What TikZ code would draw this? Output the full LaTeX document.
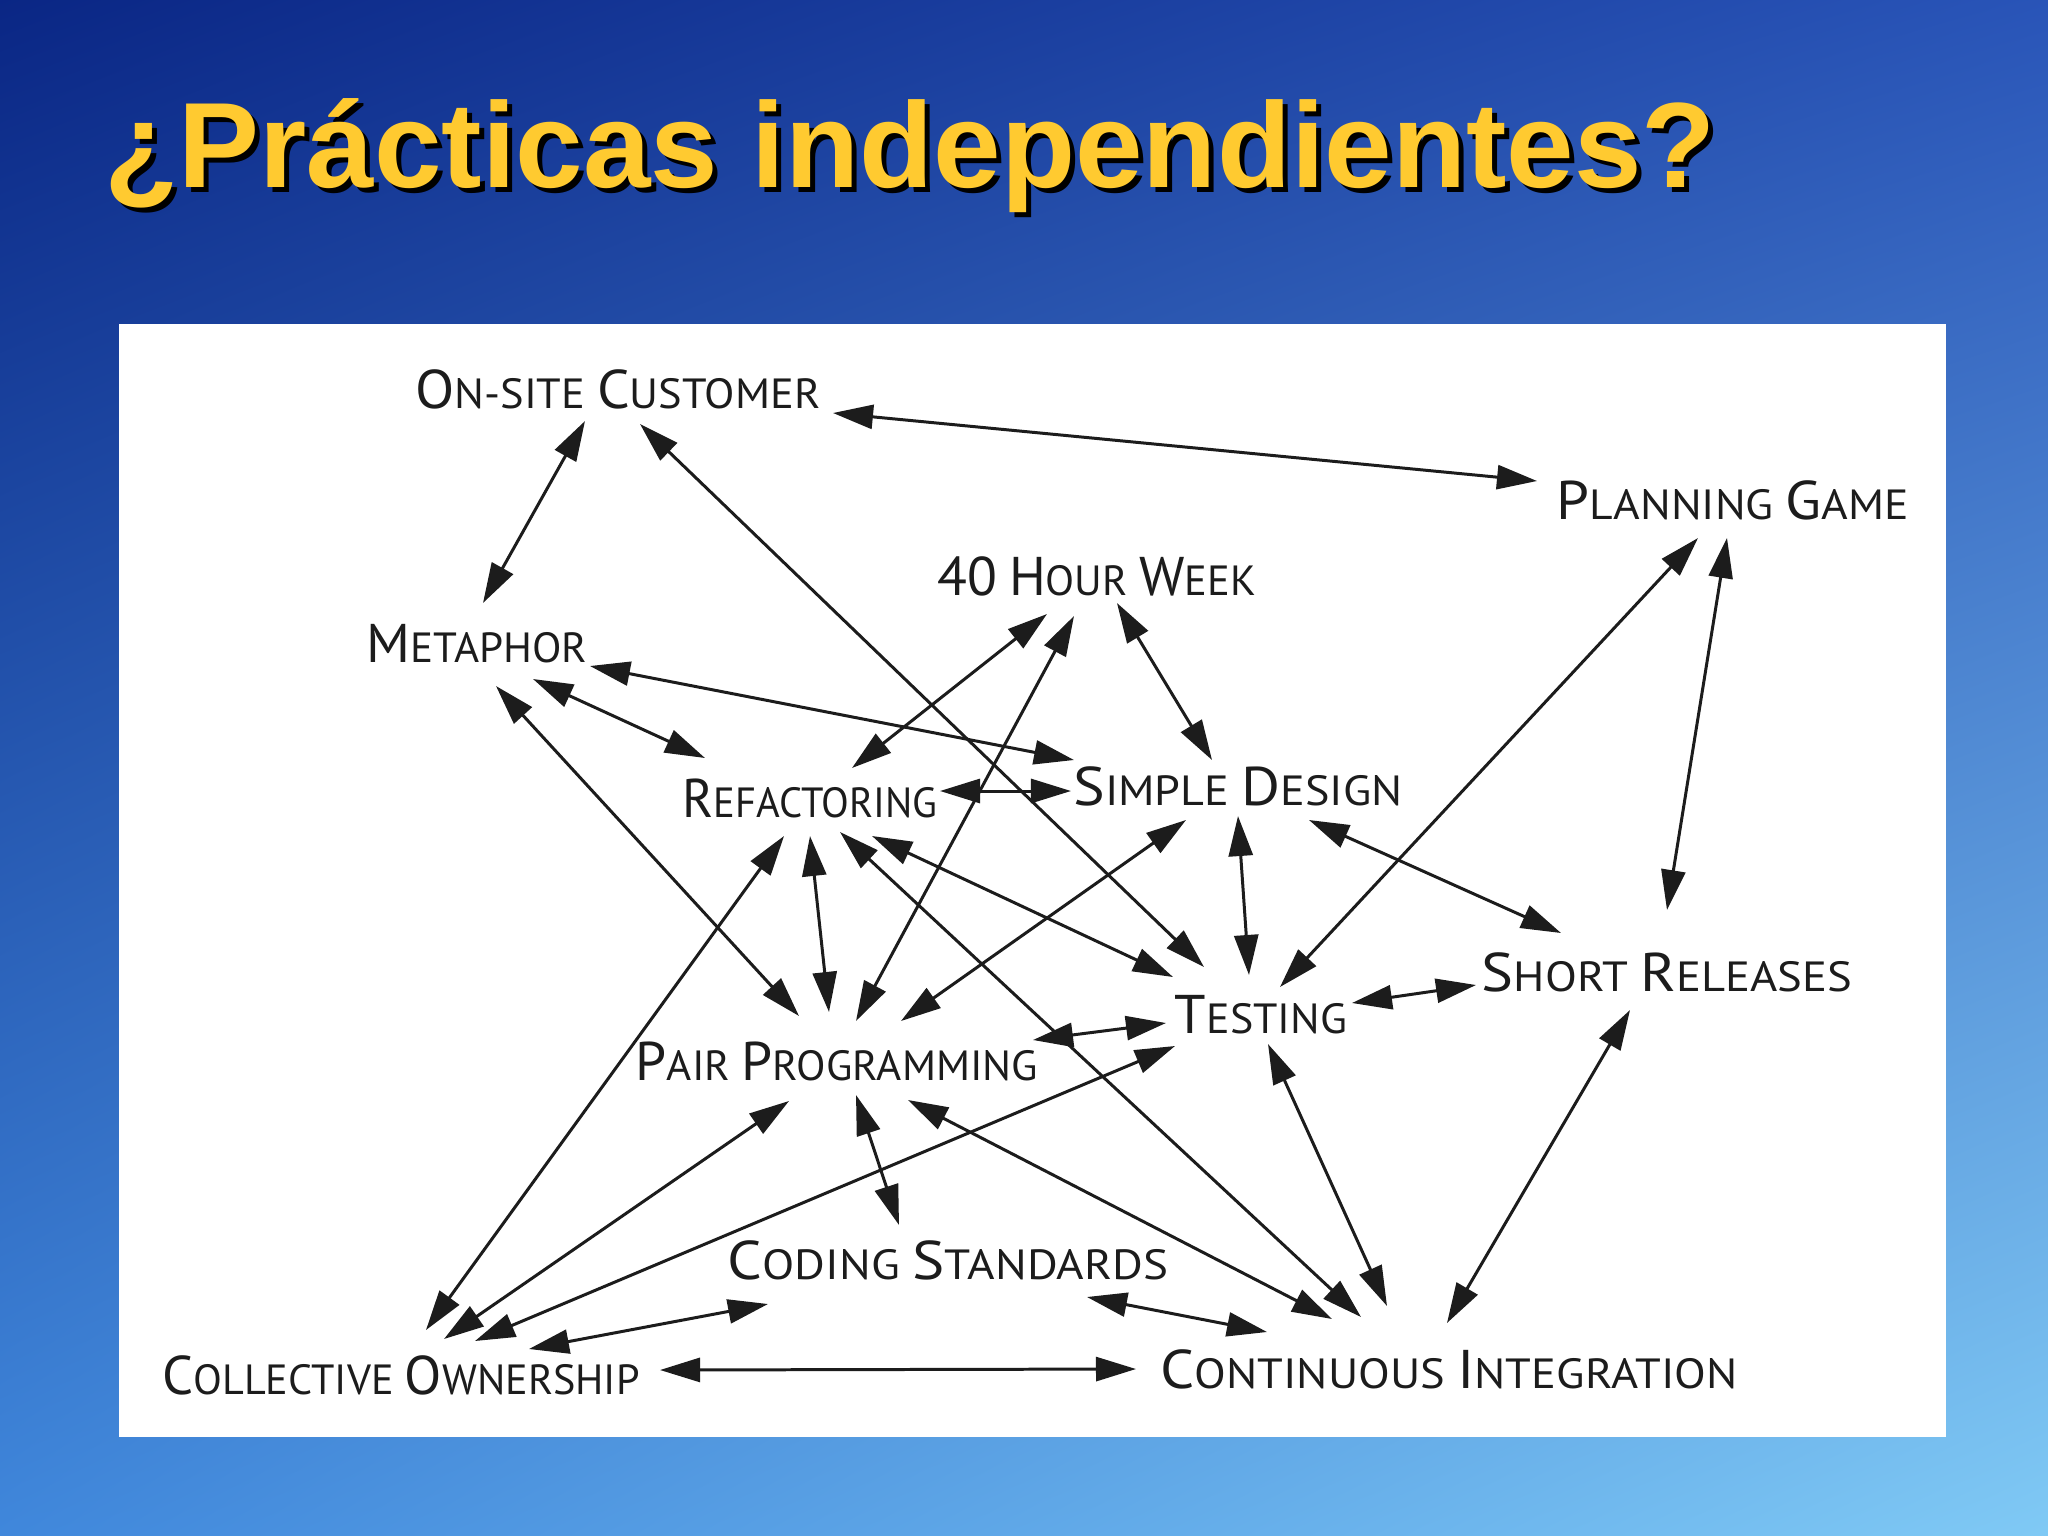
\documentclass[tikz,border=0pt]{standalone}
\usepackage{fontspec}
\usepackage{graphicx}
\setmainfont{Liberation Sans}
\newfontfamily\handfont{PT Sans}
\usetikzlibrary{arrows.meta}
\definecolor{titleyellow}{HTML}{FFCA30}
\definecolor{ink}{HTML}{1C1C1C}
% bilinear background: UL (0.04,0.15,0.52) UR (0.16,0.33,0.72) LL (0.25,0.53,0.86) LR (0.50,0.79,0.96)
% TikZ maps the path onto the central 50bp of the 100bp shading square
\pgfdeclarefunctionalshading{slidebg}{\pgfpoint{-50bp}{-50bp}}{\pgfpoint{50bp}{50bp}}{}{
  25 exch sub 50 div
  exch 25 add 50 div exch
  1 index 1 index mul 0.13 mul 2 index 0.12 mul add 1 index 0.21 mul add 0.04 add
  2 index 2 index mul 0.08 mul 3 index 0.18 mul add 2 index 0.38 mul add 0.15 add
  3 index 3 index mul -0.10 mul 4 index 0.20 mul add 3 index 0.34 mul add 0.52 add
  5 -2 roll pop pop
}
\newcommand\hwl[2]{\resizebox{#1}{\height}{#2}}
\newcommand\bgc[1]{{\fontsize{15.5}{16}\selectfont #1}}
\begin{document}
\begin{tikzpicture}[x=0.01cm,y=-0.01cm,
  lbl/.style={inner sep=0pt, font=\handfont\fontsize{12}{12}\selectfont, text=ink},
  link/.style={draw=ink, line width=0.85pt,
    {Triangle[length=4mm,width=2.4mm]}-{Triangle[length=4mm,width=2.4mm]}},
  titletext/.style={inner sep=0pt, anchor=base west,
    font=\fontsize{34.5}{36}\selectfont\bfseries}]
% background
\shade[shading=slidebg] (0,0) rectangle (2048,1536);
\useasboundingbox (0,0) rectangle (2048,1536);
% title
\node[titletext, text=black] (tshadow) at (109,192) {¿Prácticas independientes?};
\node[titletext, text=titleyellow] (title) at (104,187) {¿Prácticas independientes?};
% white panel
\fill[white] (119,324) rectangle (1946,1437);
% labels
\node[lbl] (osc) at (618,389) {\hwl{4.05cm}{\bgc{O}N-SITE \bgc{C}USTOMER}};
\node[lbl] (pg)  at (1733,500) {\hwl{3.52cm}{\bgc{P}LANNING \bgc{G}AME}};
\node[lbl] (hw)  at (1097,576) {\hwl{3.18cm}{\bgc{40} \bgc{H}OUR \bgc{W}EEK}};
\node[lbl] (met) at (477,644) {\hwl{2.21cm}{\bgc{M}ETAPHOR}};
\node[lbl] (ref) at (810,798) {\hwl{2.55cm}{\bgc{R}EFACTORING}};
\node[lbl] (sd)  at (1238,786) {\hwl{3.29cm}{\bgc{S}IMPLE \bgc{D}ESIGN}};
\node[lbl] (sr)  at (1667,972) {\hwl{3.70cm}{\bgc{S}HORT \bgc{R}ELEASES}};
\node[lbl] (tst) at (1261,1015) {\hwl{1.72cm}{\bgc{T}ESTING}};
\node[lbl] (pp)  at (837,1061) {\hwl{4.02cm}{\bgc{P}AIR \bgc{P}ROGRAMMING}};
\node[lbl] (cs)  at (948,1260) {\hwl{4.40cm}{\bgc{C}ODING \bgc{S}TANDARDS}};
\node[lbl] (co)  at (401,1375) {\hwl{4.77cm}{\bgc{C}OLLECTIVE \bgc{O}WNERSHIP}};
\node[lbl] (ci)  at (1449,1369) {\hwl{5.77cm}{\bgc{C}ONTINUOUS \bgc{I}NTEGRATION}};
% connectors
\draw[link] ([shift={(215,24)}]osc.center) -- ([shift={(-196,-19)}]pg.center);
\draw[link] ([shift={(-33,32)}]osc.center) -- ([shift={(6,-41)}]met.center);
\draw[link] ([shift={(22,35)}]osc.center) -- ([shift={(-57,-48)}]tst.center);
\draw[link] ([shift={(-50,38)}]hw.center) -- ([shift={(42,-30)}]ref.center);
\draw[link] ([shift={(-23,40)}]hw.center) -- ([shift={(19,-40)}]pp.center);
\draw[link] ([shift={(20,27)}]hw.center) -- ([shift={(-26,-26)}]sd.center);
\draw[link] ([shift={(113,22)}]met.center) -- ([shift={(-164,-26)}]sd.center);
\draw[link] ([shift={(56,35)}]met.center) -- ([shift={(-105,-40)}]ref.center);
\draw[link] ([shift={(19,42)}]met.center) -- ([shift={(-38,-45)}]pp.center);
\draw[link] ([shift={(130,-7)}]ref.center) -- ([shift={(-167,5)}]sd.center);
\draw[link] ([shift={(0,38)}]ref.center) -- ([shift={(-8,-49)}]pp.center);
\draw[link] ([shift={(62,38)}]ref.center) -- ([shift={(-88,-38)}]tst.center);
\draw[link] ([shift={(30,34)}]ref.center) -- ([shift={(-88,-52)}]ci.center);
\draw[link] ([shift={(-26,38)}]ref.center) -- ([shift={(25,-45)}]co.center);
\draw[link] ([shift={(-52,34)}]sd.center) -- ([shift={(64,-40)}]pp.center);
\draw[link] ([shift={(0,30)}]sd.center) -- ([shift={(-12,-40)}]tst.center);
\draw[link] ([shift={(71,34)}]sd.center) -- ([shift={(-106,-39)}]sr.center);
\draw[link] ([shift={(-35,38)}]pg.center) -- ([shift={(19,-28)}]tst.center);
\draw[link] ([shift={(-6,38)}]pg.center) -- ([shift={(0,-62)}]sr.center);
\draw[link] ([shift={(91,-12)}]tst.center) -- ([shift={(-191,13)}]sr.center);
\draw[link] ([shift={(-95,8)}]tst.center) -- ([shift={(196,-21)}]pp.center);
\draw[link] ([shift={(-86,31)}]tst.center) -- ([shift={(74,-34)}]co.center);
\draw[link] ([shift={(7,29)}]tst.center) -- ([shift={(-62,-63)}]ci.center);
\draw[link] ([shift={(-37,38)}]sr.center) -- ([shift={(-2,-46)}]ci.center);
\draw[link] ([shift={(19,34)}]pp.center) -- ([shift={(-49,-35)}]cs.center);
\draw[link] ([shift={(-48,40)}]pp.center) -- ([shift={(43,-36)}]co.center);
\draw[link] ([shift={(71,39)}]pp.center) -- ([shift={(-117,-50)}]ci.center);
\draw[link] ([shift={(-180,44)}]cs.center) -- ([shift={(128,-26)}]co.center);
\draw[link] ([shift={(139,37)}]cs.center) -- ([shift={(-182,-37)}]ci.center);
\draw[link] ([shift={(259,-5)}]co.center) -- ([shift={(-313,0)}]ci.center);
\end{tikzpicture}
\end{document}
